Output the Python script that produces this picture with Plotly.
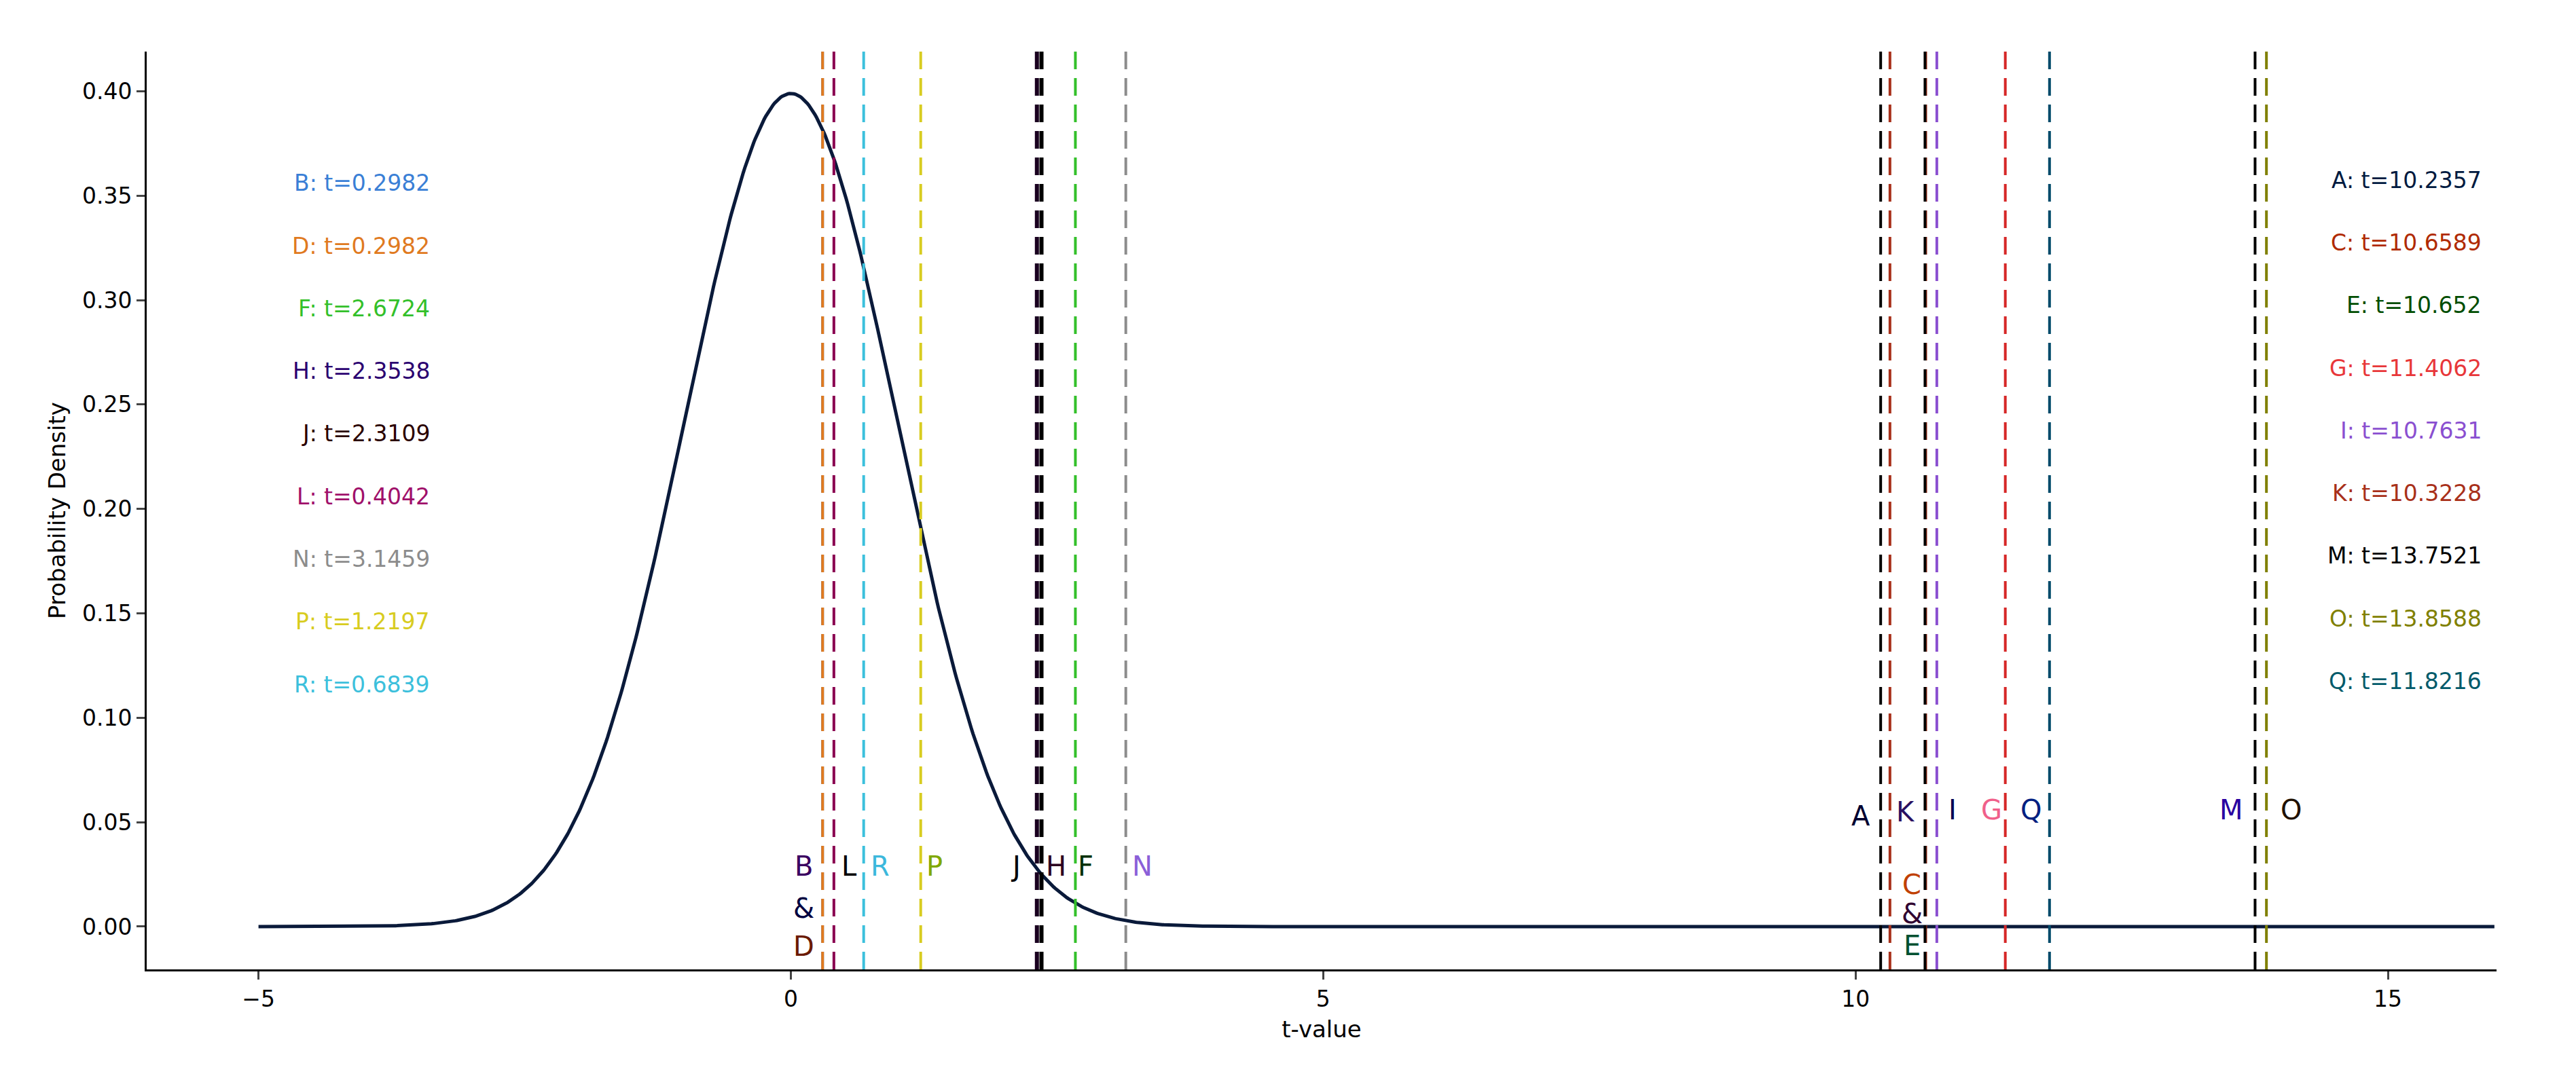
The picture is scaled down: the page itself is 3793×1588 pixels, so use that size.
import numpy as np
import plotly.graph_objects as go

names = ["A","B","C","D","E","F","G","H","I","J","K","L","M","N","O","P","Q","R"]
tvals = [10.2357,0.2982,10.6589,0.2982,10.652,2.6724,11.4062,2.3538,10.7631,2.3109,10.3228,0.4042,13.7521,3.1459,13.8588,1.2197,11.8216,0.6839]
text_colors = {"A":"#001a40","B":"#3a7fd6","C":"#b02a00","D":"#e07a1f","E":"#004d00","F":"#33c02a",
               "G":"#e8373a","H":"#2a0070","I":"#8a4fd0","J":"#2a0000","K":"#a8301a","L":"#a0106a",
               "M":"#000000","N":"#8c8c8c","O":"#808000","P":"#d8cc20","Q":"#005a6a","R":"#3cc0dc"}
line_colors = {"A":"#000000","B":"#3a7fd6","C":"#a8301a","D":"#e07a1f","E":"#000000","F":"#33c02a",
               "G":"#d62828","H":"#000000","I":"#8a4fd0","J":"#1a0020","K":"#a8301a","L":"#8a0050",
               "M":"#000000","N":"#8c8c8c","O":"#808000","P":"#d8cc20","Q":"#004a6a","R":"#3cc0dc"}
left_list = ["B","D","F","H","J","L","N","P","R"]
right_list = ["A","C","E","G","I","K","M","O","Q"]

marker_labels = [("B",0.12,0.029,"#3a0060"),("&",0.12,0.0087,"#000040"),("D",0.12,-0.0094,"#6a1a00"),
                 ("L",0.55,0.029,"#000000"),("R",0.84,0.029,"#3cb8dc"),("P",1.35,0.029,"#80a800"),
                 ("J",2.11,0.029,"#000000"),("H",2.49,0.029,"#2a0020"),("F",2.77,0.029,"#003000"),
                 ("N",3.30,0.029,"#8a60d8"),
                 ("A",10.05,0.053,"#000030"),("K",10.47,0.055,"#2a1060"),("I",10.91,0.056,"#000050"),
                 ("G",11.28,0.056,"#f0608a"),("Q",11.65,0.056,"#002080"),("M",13.53,0.056,"#2a00a0"),
                 ("O",14.09,0.056,"#201000"),
                 ("C",10.53,0.020,"#c04000"),("&",10.53,0.006,"#300030"),("E",10.53,-0.009,"#005030")]

x = np.linspace(-5, 16, 1500)
pdf = np.exp(-x**2/2)/np.sqrt(2*np.pi)

fig = go.Figure()
fig.add_trace(go.Scatter(x=x, y=pdf, mode="lines", line=dict(color="#0a1a3a", width=5), showlegend=False))

tmap = dict(zip(names, tvals))
for n in names:
    w = 6 if n in ("J","H") else 4
    fig.add_shape(type="line", x0=tmap[n], x1=tmap[n], xref="x", y0=0, y1=1, yref="paper",
                  line=dict(color=line_colors[n], width=w, dash="26px,13px"))

for i, n in enumerate(left_list):
    fig.add_annotation(x=-3.38, y=0.356-0.03*i, text=f"{n}: t={tmap[n]}",
                       showarrow=False, xanchor="right", font=dict(size=33, color=text_colors[n]))
for i, n in enumerate(right_list):
    fig.add_annotation(x=15.89, y=0.3575-0.03*i, text=f"{n}: t={tmap[n]}",
                       showarrow=False, xanchor="right", font=dict(size=33, color=text_colors[n]))
for t, xx, yy, c in marker_labels:
    fig.add_annotation(x=xx, y=yy, text=t, showarrow=False, font=dict(size=40, color=c))

fig.update_layout(
    width=3793, height=1588, margin=dict(l=208, r=125, t=68, b=168),
    plot_bgcolor="white", paper_bgcolor="white",
    font=dict(family="DejaVu Sans", size=33, color="black"),
    xaxis=dict(range=[-6.05, 16.02], tickvals=[-5,0,5,10,15], showgrid=False, zeroline=False,
               showline=True, linecolor="black", linewidth=3, ticks="outside", ticklen=12, tickwidth=3,
               title=dict(text="t-value", font=dict(size=34))),
    yaxis=dict(range=[-0.0205, 0.419], tickvals=[0,0.05,0.1,0.15,0.2,0.25,0.3,0.35,0.4],
               tickformat=".2f", showgrid=False, zeroline=False,
               showline=True, linecolor="black", linewidth=3, ticks="outside", ticklen=12, tickwidth=3,
               title=dict(text="Probability Density", font=dict(size=34))),
)
fig.write_html("out.html")
